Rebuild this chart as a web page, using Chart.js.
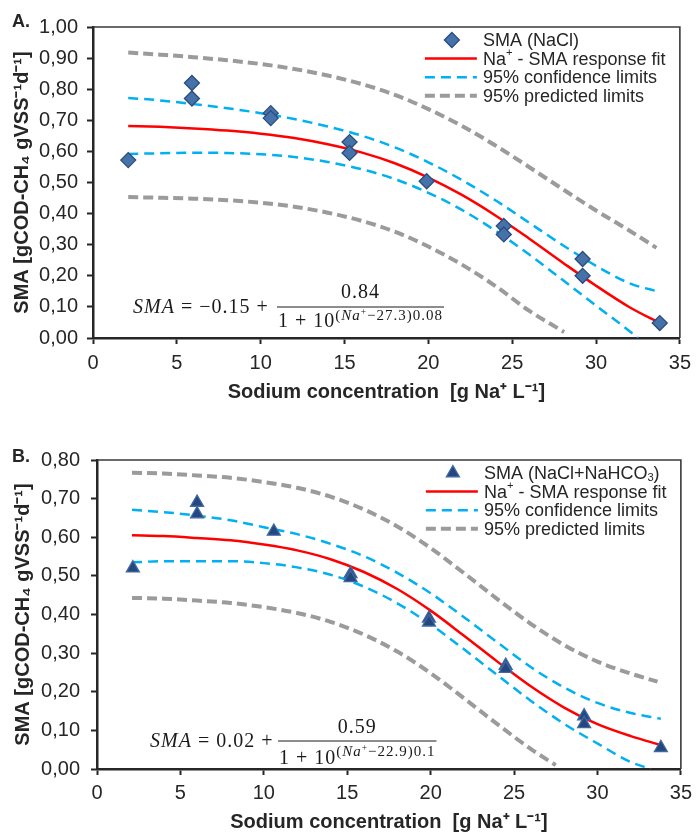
<!DOCTYPE html>
<html>
<head>
  <meta charset="utf-8">
  <title>SMA vs sodium concentration</title>
  <script src="https://cdn.jsdelivr.net/npm/chart.js@4.4.1/dist/chart.umd.min.js"></script>
  <style>
    html, body { margin: 0; padding: 0; background: #fff; overflow: hidden; }
    .panel { position: absolute; left: 0; width: 698px; }
    #panelA { top: 0; height: 410px; }
    #panelB { top: 410px; height: 424px; }
  </style>
</head>
<body>
  <div class="panel" id="panelA"><canvas id="chartA" width="698" height="410"></canvas></div>
  <div class="panel" id="panelB"><canvas id="chartB" width="698" height="424"></canvas></div>

  <script>
    // ---- data ----
    const xTickValues = [0, 5, 10, 15, 20, 25, 30, 35];
    const yTicksA = [0, 0.1, 0.2, 0.3, 0.4, 0.5, 0.6, 0.7, 0.8, 0.9, 1.0];
    const yTicksB = [0, 0.1, 0.2, 0.3, 0.4, 0.5, 0.6, 0.7, 0.8];

    // A. NaCl
    const naclX   = [2.1, 5.9, 5.9, 10.6, 10.6, 15.3, 15.3, 19.9, 24.5, 24.5, 29.2, 29.2, 33.8];
    const naclSMA = [0.572, 0.82, 0.77, 0.723, 0.707, 0.63, 0.595, 0.504, 0.36, 0.333, 0.254, 0.2, 0.048];

    const curveX   = [2.1, 4, 6, 8, 10, 12, 14, 16, 18, 20, 22, 24, 26, 28, 30, 32, 33.8];
    const fitA     = [0.682, 0.679, 0.674, 0.667, 0.657, 0.643, 0.623, 0.597, 0.562, 0.516, 0.460, 0.394, 0.320, 0.243, 0.168, 0.099, 0.048];
    const confUpA  = [0.772, 0.764, 0.752, 0.739, 0.723, 0.704, 0.680, 0.651, 0.613, 0.565, 0.508, 0.443, 0.371, 0.299, 0.232, 0.176, 0.148];
    const confLowXA = [2.1, 4, 6, 8, 10, 12, 14, 16, 18, 20, 22, 24, 26, 28, 30, 32, 32.5];
    const confLowA  = [0.592, 0.594, 0.596, 0.595, 0.591, 0.582, 0.566, 0.543, 0.511, 0.467, 0.412, 0.345, 0.269, 0.187, 0.104, 0.022, 0.0];
    const predUpXA  = [2.1, 4, 6, 8, 10, 12, 14, 16, 18, 20, 22, 24, 26, 28, 30, 32, 33.6];
    const predUpA   = [0.918, 0.911, 0.903, 0.893, 0.881, 0.865, 0.844, 0.817, 0.782, 0.736, 0.682, 0.619, 0.550, 0.479, 0.410, 0.345, 0.29];
    const predLowXA = [2.1, 4, 6, 8, 10, 12, 14, 16, 18, 20, 22, 24, 26, 28.1];
    const predLowA  = [0.453, 0.451, 0.448, 0.443, 0.435, 0.422, 0.403, 0.377, 0.342, 0.294, 0.236, 0.167, 0.088, 0.019];

    // B. NaCl + NaHCO3
    const mixX   = [2.15, 6.0, 6.0, 10.6, 15.2, 15.2, 19.9, 19.9, 24.5, 24.5, 29.2, 29.2, 33.8];
    const mixSMA = [0.52, 0.69, 0.66, 0.615, 0.505, 0.495, 0.39, 0.38, 0.268, 0.26, 0.137, 0.117, 0.055];

    const fitB      = [0.605, 0.603, 0.598, 0.592, 0.581, 0.566, 0.543, 0.510, 0.466, 0.410, 0.345, 0.278, 0.214, 0.159, 0.116, 0.085, 0.062];
    const confUpB   = [0.671, 0.665, 0.656, 0.644, 0.626, 0.608, 0.583, 0.551, 0.508, 0.455, 0.393, 0.328, 0.264, 0.211, 0.171, 0.145, 0.13];
    const confLowXB = [2.1, 4, 6, 8, 10, 12, 14, 16, 18, 20, 22, 24, 26, 28, 30, 32, 33.2];
    const confLowB  = [0.535, 0.538, 0.538, 0.538, 0.533, 0.522, 0.503, 0.472, 0.429, 0.374, 0.31, 0.243, 0.177, 0.117, 0.066, 0.018, 0.0];
    const predUpXB  = [2.1, 4, 6, 8, 10, 12, 14, 16, 18, 20, 22, 24, 26, 28, 30, 32, 33.6];
    const predUpB   = [0.767, 0.765, 0.760, 0.754, 0.743, 0.728, 0.705, 0.672, 0.628, 0.572, 0.507, 0.440, 0.376, 0.321, 0.278, 0.247, 0.226];
    const predLowXB = [2.1, 4, 6, 8, 10, 12, 14, 16, 18, 20, 22, 24, 26, 27.5];
    const predLowB  = [0.443, 0.441, 0.436, 0.430, 0.419, 0.404, 0.381, 0.348, 0.304, 0.248, 0.183, 0.116, 0.052, 0.01];

    // ---- styles ----
    const SANS = "'Liberation Sans', Arial, sans-serif";
    const SERIF = "'Liberation Serif', 'Times New Roman', serif";
    const INK = '#262626';
    const RED = '#ff0000', BLUE = '#00b0f0', GREY = '#9b9b9b';

    function pts(xs, ys) {
      return xs.map((x, i) => ({ x: x, y: ys[i] }));
    }

    // draws text made of pieces: [text, 'r' | 'i' | 'sup' | 'sub']
    function drawRich(ctx, parts, x, y, size, family) {
      parts.forEach(([text, style]) => {
        let s = size, dy = 0, it = '';
        if (style === 'sup') { s = size * 0.62; dy = -size * 0.36; }
        if (style === 'sub') { s = size * 0.62; dy = size * 0.22; }
        if (style === 'i') it = 'italic ';
        ctx.font = it + s + 'px ' + family;
        ctx.fillText(text, x, y + dy);
        x += ctx.measureText(text).width;
      });
      return x;
    }

    // box round the plot (left/bottom come from the axes)
    const frame = {
      id: 'frame',
      beforeDatasetsDraw(chart) {
        const { ctx, chartArea: a } = chart;
        ctx.save();
        ctx.strokeStyle = '#3a3a3a';
        ctx.lineWidth = 1.6;
        ctx.beginPath();
        ctx.moveTo(a.left, a.top);
        ctx.lineTo(a.right, a.top);
        ctx.lineTo(a.right, a.bottom);
        ctx.stroke();
        ctx.restore();
      }
    };

    // legend inside the plot, top right
    const boxLegend = {
      id: 'boxLegend',
      afterDatasetsDraw(chart, args, opts) {
        const { ctx, chartArea: a } = chart;
        const textX = a.right - 197;
        let row = 0;
        ctx.save();
        ctx.textBaseline = 'middle';
        chart.data.datasets.forEach(ds => {
          if (!ds.legendText) return;
          const y = a.top + opts.firstRow + row * opts.rowGap;
          row++;
          if (ds.showLine === false) {
            const cx = textX - 31, r = ds.pointRadius;
            ctx.fillStyle = ds.backgroundColor;
            ctx.strokeStyle = ds.borderColor;
            ctx.lineWidth = ds.borderWidth;
            ctx.beginPath();
            if (ds.pointStyle === 'rectRot') {
              ctx.moveTo(cx, y - r); ctx.lineTo(cx + r, y); ctx.lineTo(cx, y + r); ctx.lineTo(cx - r, y);
            } else {
              ctx.moveTo(cx, y - r); ctx.lineTo(cx + r * 0.866, y + r / 2); ctx.lineTo(cx - r * 0.866, y + r / 2);
            }
            ctx.closePath();
            ctx.fill();
            ctx.stroke();
          } else {
            ctx.strokeStyle = ds.borderColor;
            ctx.lineWidth = ds.borderWidth;
            ctx.setLineDash(ds.borderDash || []);
            ctx.beginPath();
            ctx.moveTo(textX - 58, y);
            ctx.lineTo(textX - 6, y);
            ctx.stroke();
            ctx.setLineDash([]);
          }
          ctx.fillStyle = INK;
          drawRich(ctx, ds.legendText, textX, y + 1, 18, SANS);
        });
        ctx.restore();
      }
    };

    // panel letter and fitted equation
    const notes = {
      id: 'notes',
      afterDraw(chart, args, o) {
        const ctx = chart.ctx;
        ctx.save();
        ctx.fillStyle = INK;
        ctx.textBaseline = 'alphabetic';
        ctx.font = 'bold 18px ' + SANS;
        ctx.fillText(o.tag, 12, o.tagY);

        ctx.fillStyle = '#1a1a1a';
        ctx.letterSpacing = '1px';
        drawRich(ctx, o.lhs, o.x, o.lhsY, 20, SERIF);
        let end = drawRich(ctx, [[o.den, 'r']], o.fracX + 1, o.denY, 20, SERIF);
        end = drawRich(ctx, o.exp, end, o.expY, 15, SERIF);
        ctx.font = '20px ' + SERIF;
        const barW = end - o.fracX + 1;
        const numW = ctx.measureText(o.num).width;
        ctx.fillText(o.num, o.fracX + (barW - numW) / 2, o.numY);
        ctx.strokeStyle = '#1a1a1a';
        ctx.lineWidth = 1;
        ctx.beginPath();
        ctx.moveTo(o.fracX, o.barY);
        ctx.lineTo(o.fracX + barW, o.barY);
        ctx.stroke();
        ctx.restore();
      }
    };

    function makeChart(id, p) {
      const tickFont = { family: SANS, size: 20 };
      const titleFont = { family: SANS, size: 20, weight: 'bold' };
      return new Chart(document.getElementById(id), {
        type: 'scatter',
        data: {
          datasets: [
            {
              label: 'points', legendText: p.pointLabel, data: pts(p.px, p.py),
              showLine: false, pointStyle: p.marker, pointRadius: p.markerR,
              backgroundColor: p.markerFill, borderColor: p.markerEdge, borderWidth: 1.3
            },
            {
              type: 'line', label: 'fit', legendText: [['Na'], ['+', 'sup'], [' - SMA response fit']],
              data: pts(curveX, p.fit), borderColor: RED, borderWidth: 2.5, pointRadius: 0,
              cubicInterpolationMode: 'monotone', fill: false
            },
            {
              type: 'line', label: 'conf up', legendText: [['95% confidence limits']],
              data: pts(curveX, p.confUp), borderColor: BLUE, borderWidth: 2.5, borderDash: [10, 6],
              pointRadius: 0, cubicInterpolationMode: 'monotone', fill: false
            },
            {
              type: 'line', label: 'conf low', data: pts(p.confLowX, p.confLow),
              borderColor: BLUE, borderWidth: 2.5, borderDash: [10, 6],
              pointRadius: 0, cubicInterpolationMode: 'monotone', fill: false
            },
            {
              type: 'line', label: 'pred up', legendText: [['95% predicted limits']],
              data: pts(p.predUpX, p.predUp), borderColor: GREY, borderWidth: 4, borderDash: [10, 5],
              pointRadius: 0, cubicInterpolationMode: 'monotone', fill: false
            },
            {
              type: 'line', label: 'pred low', data: pts(p.predLowX, p.predLow),
              borderColor: GREY, borderWidth: 4, borderDash: [10, 5],
              pointRadius: 0, cubicInterpolationMode: 'monotone', fill: false
            }
          ]
        },
        options: {
          responsive: false,
          animation: false,
          events: [],
          layout: { padding: { top: p.padTop, right: p.padRight, bottom: 0, left: 0 } },
          plugins: {
            legend: { display: false },
            tooltip: { enabled: false },
            boxLegend: { firstRow: 13, rowGap: 18.6 },
            notes: p.notes
          },
          scales: {
            x: {
              type: 'linear', min: 0, max: 35,
              afterFit: s => { s.height = p.xAxisH; },
              afterBuildTicks: s => { s.ticks = xTickValues.map(v => ({ value: v })); },
              ticks: { font: tickFont, color: INK, padding: p.xPad, callback: v => String(v) },
              grid: { drawOnChartArea: false, drawTicks: true, tickLength: 6, tickWidth: 2, tickColor: INK },
              border: { display: true, color: INK, width: 2.5 },
              title: { display: true, text: 'Sodium concentration  [g Na⁺ L⁻¹]', font: titleFont, color: INK,
                       padding: { top: 0, bottom: p.xTitlePad } }
            },
            y: {
              min: 0, max: p.yMax,
              afterFit: s => { s.width = p.yAxisW; },
              afterBuildTicks: s => { s.ticks = p.yTicks.map(v => ({ value: v })); },
              ticks: { font: tickFont, color: INK, padding: p.yPad, callback: v => v.toFixed(2).replace('.', ',') },
              grid: { drawOnChartArea: false, drawTicks: true, tickLength: 6, tickWidth: 2, tickColor: INK },
              border: { display: true, color: INK, width: 2.5 },
              title: { display: true, text: 'SMA [gCOD-CH₄ gVSS⁻¹d⁻¹]', font: titleFont, color: INK,
                       padding: { top: p.yTitlePad, bottom: 0 } }
            }
          }
        },
        plugins: [frame, boxLegend, notes]
      });
    }

    makeChart('chartA', {
      px: naclX, py: naclSMA, pointLabel: [['SMA (NaCl)']],
      marker: 'rectRot', markerR: 7.5, markerFill: '#4672aa', markerEdge: '#2b4c7e',
      fit: fitA, confUp: confUpA, confLowX: confLowXA, confLow: confLowA,
      predUpX: predUpXA, predUp: predUpA, predLowX: predLowXA, predLow: predLowA,
      yMax: 1.0, yTicks: yTicksA,
      padTop: 27, padRight: 13, yAxisW: 93, xAxisH: 72,
      xPad: 7, yPad: 9, xTitlePad: 6, yTitlePad: 10,
      notes: {
        tag: 'A.', tagY: 27,
        x: 133, lhsY: 313, lhs: [['SMA', 'i'], [' = −0.15 + ', 'r']],
        fracX: 277, barY: 307, num: '0.84', numY: 298, den: '1 + 10', denY: 327,
        exp: [['(', 'r'], ['Na', 'i'], ['+', 'sup'], ['−27.3)0.08', 'r']], expY: 320
      }
    });

    makeChart('chartB', {
      px: mixX, py: mixSMA, pointLabel: [['SMA (NaCl+NaHCO'], ['3', 'sub'], [')']],
      marker: 'triangle', markerR: 7.5, markerFill: '#23477e', markerEdge: '#4069a2',
      fit: fitB, confUp: confUpB, confLowX: confLowXB, confLow: confLowB,
      predUpX: predUpXB, predUp: predUpB, predLowX: predLowXB, predLow: predLowB,
      yMax: 0.8, yTicks: yTicksB,
      padTop: 50, padRight: 16, yAxisW: 97, xAxisH: 65,
      xPad: 6, yPad: 11, xTitlePad: 0, yTitlePad: 11,
      notes: {
        tag: 'B.', tagY: 52,
        x: 150, lhsY: 337, lhs: [['SMA', 'i'], [' = 0.02 + ', 'r']],
        fracX: 278, barY: 331, num: '0.59', numY: 323, den: '1 + 10', denY: 354,
        exp: [['(', 'r'], ['Na', 'i'], ['+', 'sup'], ['−22.9)0.1', 'r']], expY: 346
      }
    });
  </script>
</body>
</html>
